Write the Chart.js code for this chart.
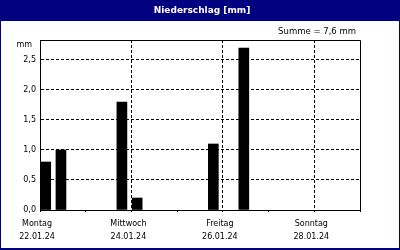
<!DOCTYPE html>
<html>
<head>
<meta charset="utf-8">
<script src="https://cdn.jsdelivr.net/npm/chart.js@4/dist/chart.umd.min.js"></script>
<style>
  html, body { margin: 0; padding: 0; background: #fff; }
  canvas { display: block; }
</style>
</head>
<body>
<canvas id="c" width="400" height="250"></canvas>
<script>
// --- data ---
const chartTitle = 'Niederschlag [mm]';
const sumText = 'Summe = 7,6 mm';
const unitLabel = 'mm';
const barHours = [3, 11, 43, 51, 91, 107];          // hours since Monday 22.01.24 00:00
const precip = [0.8, 1.0, 1.8, 0.2, 1.1, 2.7];      // mm
const tickDays = ['Montag', 'Mittwoch', 'Freitag', 'Sonntag'];
const tickDates = ['22.01.24', '24.01.24', '26.01.24', '28.01.24'];
const xMin = 0, xMax = 168, dayStep = 24, labelStep = 48;
const yMin = 0, yMax = 2.833, yStep = 0.5;

const NAVY = '#000080';
const FONT = 'DejaVu Sans';

const framePlugin = {
  id: 'frame',
  beforeDraw(chart) {
    const ctx = chart.ctx;
    const W = chart.width, H = chart.height;
    ctx.save();
    ctx.fillStyle = '#ffffff';
    ctx.fillRect(0, 0, W, H);
    ctx.fillStyle = NAVY;
    ctx.fillRect(0, 0, W, 21);
    ctx.fillRect(0, 0, 1, H);
    ctx.fillRect(W - 1, 0, 1, H);
    ctx.fillRect(0, H - 2, W, 2);
    ctx.fillStyle = '#ffffff';
    ctx.font = 'bold 9px "' + FONT + '"';
    ctx.textAlign = 'center';
    ctx.textBaseline = 'alphabetic';
    ctx.fillText(chartTitle, 202, 13);
    ctx.fillStyle = '#000';
    ctx.font = '8.5px "' + FONT + '"';
    ctx.textAlign = 'right';
    ctx.fillText(sumText, 356, 34);
    ctx.font = '8px "' + FONT + '"';
    ctx.fillText(unitLabel, 32, 47);
    ctx.restore();
  },
  afterDraw(chart) {
    const a = chart.chartArea;
    const ctx = chart.ctx;
    ctx.save();
    ctx.strokeStyle = '#000';
    ctx.lineWidth = 1;
    ctx.beginPath();
    ctx.moveTo(Math.round(a.left) + 0.5, Math.round(a.top) + 0.5);
    ctx.lineTo(Math.round(a.right) + 0.5, Math.round(a.top) + 0.5);
    ctx.lineTo(Math.round(a.right) + 0.5, Math.round(a.bottom) + 0.5);
    ctx.stroke();
    ctx.restore();
  }
};

new Chart(document.getElementById('c'), {
  type: 'bar',
  data: {
    datasets: [{
      data: barHours.map((h, i) => ({ x: h, y: precip[i] })),
      backgroundColor: '#000',
      borderWidth: 0,
      barThickness: 10
    }]
  },
  options: {
    responsive: false,
    devicePixelRatio: 1,
    animation: false,
    layout: { padding: { top: 40, left: 0, right: 40, bottom: 0 } },
    plugins: { legend: { display: false }, tooltip: { enabled: false }, title: { display: false } },
    scales: {
      x: {
        type: 'linear',
        min: xMin, max: xMax,
        offset: false,
        afterFit(s) { s.height = 40; },
        grid: {
          offset: false,
          color: c => (c.tick && c.tick.value % labelStep === 0) ? '#000' : 'rgba(0,0,0,0)',
          lineWidth: 1,
          drawTicks: true,
          tickLength: 2,
          tickColor: '#000'
        },
        border: { display: true, color: '#000', width: 1, dash: [3, 2] },
        ticks: {
          stepSize: dayStep,
          autoSkip: false,
          maxRotation: 0,
          includeBounds: false,
          padding: 5,
          labelOffset: -3,
          color: '#000',
          font: { family: FONT, size: 8, lineHeight: 1.6875 },
          callback: v => (v % labelStep === 0 && v / labelStep < tickDays.length)
            ? [tickDays[v / labelStep], tickDates[v / labelStep]] : ''
        }
      },
      y: {
        type: 'linear',
        min: yMin, max: yMax,
        afterFit(s) { s.width = 40; },
        grid: { color: '#000', lineWidth: 1, drawTicks: false },
        border: { display: true, color: '#000', width: 1, dash: [3, 2] },
        ticks: {
          stepSize: yStep,
          includeBounds: false,
          padding: 4,
          color: '#000',
          font: { family: FONT, size: 8 },
          callback: v => v.toFixed(1).replace('.', ',')
        }
      }
    }
  },
  plugins: [framePlugin]
});
</script>
</body>
</html>
